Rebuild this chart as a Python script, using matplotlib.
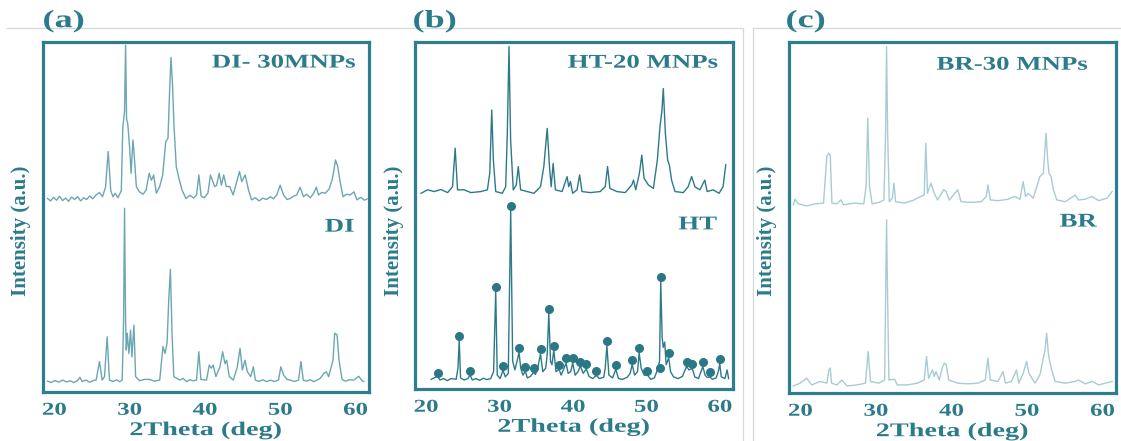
import matplotlib
matplotlib.use("Agg")
import matplotlib.pyplot as plt
from matplotlib.lines import Line2D
from matplotlib import patheffects
from matplotlib.transforms import Affine2D

# ---------------- data (2Theta in deg, intensity in a.u.) ----------------
a_top_x = [19.1, 19.5, 19.9, 20.3, 20.7, 21.1, 21.5, 21.9, 22.3, 22.7, 23.1, 23.5, 23.9, 24.3, 24.7, 25.1, 25.5,
           26.0, 26.4, 26.8, 27.16, 27.5, 27.8, 28.1, 28.45, 28.9, 29.1, 29.33, 29.47, 29.6, 29.75, 30.0, 30.2,
           30.45, 30.6, 30.9, 31.3, 31.8, 32.2, 32.6, 32.9, 33.2, 33.55, 34.0, 34.4, 34.8, 35.1, 35.3, 35.5,
           35.7, 35.9, 36.2, 36.6, 37.0, 37.5, 38.0, 38.5, 38.9, 39.2, 39.5, 39.9, 40.4, 40.75, 41.0, 41.3,
           41.55, 41.9, 42.2, 42.5, 42.85, 43.3, 43.75, 44.3, 44.6, 44.9, 45.1, 45.35, 45.8, 46.2, 46.7, 47.2,
           47.7, 48.2, 48.7, 49.1, 49.55, 50.0, 50.45, 50.9, 51.35, 51.8, 52.2, 52.65, 53.1, 53.5, 54.0, 54.45,
           54.8, 55.1, 55.5, 56.0, 56.5, 56.9, 57.15, 57.35, 57.65, 58.0, 58.35, 58.8, 59.3, 59.8, 60.2, 60.7,
           61.2, 61.55]
a_top_y = [55.3, 54.6, 55.6, 54.8, 55.9, 54.7, 55.4, 54.5, 55.7, 55.0, 55.8, 54.6, 55.5, 55.0, 56.0, 55.2, 56.2,
           57.0, 55.8, 58.5, 68.7, 57.5, 55.8, 56.8, 55.5, 57.5, 75.8, 80.0, 99.1, 78.0, 76.8, 70.0, 62.5,
           72.0, 68.0, 58.7, 57.2, 56.5, 57.7, 62.5, 60.5, 62.0, 56.8, 58.7, 62.0, 71.5, 72.5, 85.0, 95.6,
           88.0, 76.0, 64.4, 60.6, 57.5, 55.3, 56.2, 55.4, 56.3, 62.0, 56.0, 55.5, 56.8, 62.0, 60.5, 58.7,
           59.0, 62.5, 59.1, 62.0, 58.7, 58.7, 56.3, 60.6, 63.0, 60.1, 61.0, 62.0, 57.7, 54.9, 55.5, 54.6,
           55.4, 55.0, 55.8, 55.2, 56.3, 59.1, 56.3, 55.0, 55.3, 56.0, 56.3, 58.5, 55.8, 56.5, 55.5, 56.8,
           58.5, 56.3, 57.0, 56.8, 58.0, 60.6, 63.5, 66.3, 64.4, 59.6, 55.8, 56.5, 56.3, 57.2, 54.9, 55.6,
           54.8, 55.2]

a_bot_x = [19.11, 19.6, 20.1, 20.6, 21.1, 21.6, 22.1, 22.6, 23.1, 23.4, 23.7, 24.2, 24.7, 25.2, 25.56, 26.0,
           26.36, 26.67, 27.02, 27.33, 27.8, 28.3, 28.67, 29.02, 29.2, 29.33, 29.47, 29.56, 29.69, 29.91,
           30.13, 30.31, 30.58, 30.8, 31.33, 32.0, 32.67, 33.3, 34.0, 34.44, 34.71, 34.98, 35.2, 35.42, 35.64,
           35.87, 36.67, 37.1, 37.56, 38.0, 38.44, 38.89, 39.2, 39.47, 40.22, 40.58, 40.85, 41.1, 41.47, 42.0,
           42.36, 42.67, 42.89, 43.25, 43.78, 44.31, 44.67, 44.98, 45.33, 45.64, 46.09, 46.44, 46.71, 47.2,
           47.7, 48.22, 48.7, 49.2, 49.78, 50.09, 50.44, 50.9, 51.33, 51.9, 52.44, 52.76, 53.07, 53.5, 54.0,
           54.44, 54.9, 55.33, 55.78, 56.13, 56.44, 57.02, 57.24, 57.56, 57.82, 58.22, 58.7, 59.2, 59.78,
           60.44, 60.89, 61.11]
a_bot_y = [3.1, 2.7, 3.3, 2.8, 3.4, 2.9, 3.2, 2.7, 3.3, 4.2, 3.0, 3.4, 2.8, 3.3, 3.4, 8.7,
           3.4, 4.4, 15.8, 3.4, 3.0, 3.5, 2.95, 3.4, 20.0, 52.5, 20.0, 12.0, 16.8, 11.0,
           17.7, 10.0, 19.1, 4.4, 3.2, 3.6, 3.6, 3.1, 3.4, 13.0, 11.0, 14.0, 26.3, 35.0, 16.8,
           4.4, 3.4, 3.9, 2.95, 3.5, 3.2, 3.4, 11.5, 3.6, 3.4, 7.7, 6.8, 7.7, 4.4, 7.2,
           11.5, 8.1, 9.1, 4.4, 3.4, 7.2, 12.5, 6.3, 9.1, 5.8, 4.4, 7.2, 3.4, 3.0,
           3.5, 2.95, 3.4, 3.0, 3.4, 7.2, 4.9, 3.6, 3.4, 3.0, 3.4, 8.7, 3.4, 3.1, 3.5,
           2.95, 3.4, 3.9, 5.3, 5.8, 4.4, 9.1, 16.8, 16.3, 9.1, 3.6, 3.1, 3.5, 3.4,
           4.5, 3.2, 2.95]

b_top_x = [19.32, 20.22, 21.13, 22.03, 22.94, 23.61, 23.97, 24.29, 25.2, 26.1, 27.46, 28.36, 28.68, 28.95,
           29.17, 29.49, 30.39, 30.85, 31.07, 31.3, 31.52, 31.88, 32.29, 32.56, 32.88, 33.78, 34.69, 35.59,
           36.04, 36.5, 36.81, 37.04, 37.31, 37.62, 38.53, 39.21, 39.43, 39.66, 39.97, 40.56, 40.92, 41.24,
           42.37, 43.73, 44.4, 44.72, 45.04, 45.99, 47.12, 48.02, 48.25, 48.56, 49.06, 49.38, 49.69, 50.28,
           50.96, 51.5, 51.86, 52.13, 52.31, 52.59, 52.9, 53.13, 53.44, 53.9, 55.03, 55.7, 56.16, 56.61,
           57.29, 57.96, 58.28, 59.09, 59.9, 60.45, 60.81]
b_top_y = [56.4, 57.4, 56.9, 57.5, 56.6, 58.3, 69.4, 57.4, 57.4, 56.6, 56.9, 57.4, 62.2, 80.4,
           66.0, 56.9, 56.4, 58.3, 73.7, 98.7, 71.8, 57.4, 58.8, 64.1, 57.4, 56.9, 56.4, 58.3,
           64.1, 75.1, 64.1, 58.3, 65.0, 57.4, 56.9, 61.2, 58.3, 59.8, 56.4, 57.4, 61.7, 56.9,
           56.6, 56.9, 58.3, 64.1, 57.8, 56.9, 56.6, 58.8, 60.2, 57.4, 62.2, 67.4, 60.7, 58.8,
           57.8, 66.0, 75.6, 80.4, 86.6, 73.7, 66.0, 64.6, 60.2, 56.9, 56.6, 58.3, 61.2, 58.3,
           57.4, 60.2, 56.9, 57.4, 56.4, 58.3, 64.6]

b_bot_x = [20.7, 21.2, 21.58, 21.9, 22.4, 22.9, 23.4, 24.1, 24.35, 24.52, 24.7, 25.2, 25.7, 26.0, 26.3, 26.8,
           27.3, 27.8, 28.3, 28.8, 29.2, 29.49, 29.7, 30.1, 30.48, 30.8, 31.2, 31.53, 31.8, 32.1, 32.4, 32.66,
           32.9, 33.2, 33.52, 33.8, 34.2, 34.64, 34.9, 35.2, 35.59, 35.9, 36.3, 36.5, 36.72, 36.95, 37.15,
           37.4, 37.7, 38.12, 38.4, 38.7, 39.07, 39.35, 39.7, 39.98, 40.3, 40.7, 41.02, 41.4, 41.83, 42.2,
           42.7, 43.19, 43.6, 44.2, 44.4, 44.63, 44.9, 45.4, 45.85, 46.2, 46.8, 47.4, 47.8, 48.07, 48.4,
           48.8, 49.02, 49.3, 49.7, 50.15, 50.6, 51.1, 51.5, 51.8, 51.96, 52.15, 52.3, 52.5, 52.7, 53.04,
           53.3, 53.7, 54.3, 54.9, 55.48, 55.8, 56.25, 56.6, 57.1, 57.69, 58.0, 58.3, 58.64, 59.0, 59.5,
           59.8, 60.0, 60.2, 60.7, 61.0, 61.2]
b_bot_y = [2.8, 3.3, 3.6, 2.6, 3.0, 2.4, 3.0, 2.8, 6.0, 14.0, 3.2, 2.6, 3.0, 4.0, 2.6, 3.0,
           2.5, 3.1, 2.7, 3.0, 5.0, 28.2, 4.0, 3.0, 5.4, 3.5, 4.5, 51.5, 8.0, 5.5, 8.0, 10.6,
           6.0, 4.0, 5.1, 3.2, 3.6, 4.8, 4.2, 6.0, 10.1, 5.0, 6.0, 10.0, 21.8, 8.0, 7.0,
           11.2, 5.0, 5.7, 4.0, 5.5, 7.5, 4.5, 5.0, 7.5, 4.0, 5.0, 6.6, 4.5, 5.8, 3.6,
           3.0, 3.9, 3.0, 3.4, 6.0, 12.5, 4.0, 3.2, 5.7, 3.0, 2.8, 3.4, 4.5, 7.1, 4.0,
           5.0, 10.4, 6.0, 4.0, 4.0, 2.8, 3.2, 5.5, 8.0, 31.0, 15.0, 12.0, 13.5, 7.0, 9.0,
           5.0, 3.5, 3.0, 3.6, 6.5, 5.5, 5.9, 3.5, 3.0, 6.5, 4.0, 3.3, 3.5, 2.8, 3.2,
           5.0, 7.3, 3.5, 3.0, 5.5, 3.0]

# marked reflections on the HT pattern
b_dot_x = [21.58, 24.52, 26.0, 29.49, 30.48, 31.53, 32.66, 33.52, 34.64, 35.59, 36.72, 37.4, 38.12, 39.07,
           39.98, 41.02, 41.83, 43.19, 44.63, 45.85, 48.07, 49.02, 50.15, 51.82, 51.96, 53.04, 55.48, 56.25,
           57.69, 58.64, 60.0]
b_dot_y = [4.7, 15.3, 5.3, 29.5, 6.7, 52.8, 11.9, 6.4, 6.1, 11.4, 23.1, 12.5, 7.0, 8.8,
           8.8, 7.9, 7.1, 5.2, 13.8, 7.0, 8.4, 11.7, 5.3, 6.0, 32.3, 10.3, 7.8, 7.2,
           7.8, 4.8, 8.6]

c_top_x = [19.07, 19.29, 19.73, 20.84, 21.96, 23.07, 23.51, 23.73, 23.96, 24.18, 24.84, 25.38, 25.73, 27.07,
           28.4, 28.71, 28.93, 29.16, 29.51, 30.4, 31.07, 31.29, 31.42, 31.56, 31.78, 32.18, 32.4, 32.62,
           33.73, 34.84, 35.96, 36.4, 36.62, 36.84, 37.29, 37.73, 38.18, 38.98, 39.29, 39.73, 40.84, 41.29,
           42.62, 43.96, 44.62, 44.84, 45.16, 46.18, 47.51, 48.4, 49.07, 49.51, 49.82, 50.18, 50.84, 51.73,
           52.18, 52.53, 52.76, 52.93, 53.2, 53.51, 53.96, 55.07, 56.4, 56.84, 57.73, 58.62, 59.51, 60.62,
           61.29]
c_top_y = [53.6, 55.2, 53.9, 53.3, 53.9, 54.1, 67.4, 68.3, 67.8, 54.1, 53.9, 55.0, 53.6, 54.1,
           53.9, 58.8, 78.3, 58.8, 53.9, 54.3, 55.0, 74.0, 98.7, 74.0, 54.5, 55.5, 59.8, 54.5,
           54.1, 54.8, 56.0, 56.4, 71.2, 56.9, 59.8, 56.9, 55.0, 57.9, 57.4, 55.0, 57.9, 54.5,
           54.3, 54.5, 56.0, 59.3, 55.0, 54.8, 55.2, 56.0, 55.2, 60.2, 56.0, 56.9, 55.5, 61.7,
           62.6, 74.0, 66.4, 62.6, 61.7, 57.9, 55.0, 54.5, 56.4, 55.0, 55.2, 56.0, 54.8, 55.5,
           57.4]

c_bot_x = [19.07, 19.96, 20.84, 21.51, 22.62, 23.51, 23.78, 23.96, 24.13, 24.84, 25.51, 26.18, 27.51, 28.62,
           28.98, 29.29, 30.4, 31.16, 31.29, 31.42, 31.56, 31.73, 32.49, 32.84, 34.18, 35.51, 36.4, 36.71,
           36.98, 37.51, 37.73, 37.96, 38.4, 38.84, 39.07, 39.33, 39.64, 40.84, 42.18, 43.51, 44.49, 44.84,
           45.16, 46.18, 46.84, 47.16, 47.96, 48.62, 48.93, 49.51, 49.96, 50.27, 51.07, 51.73, 52.09, 52.4,
           52.62, 52.84, 53.07, 53.29, 53.73, 55.07, 56.4, 56.84, 57.73, 58.62, 59.51, 60.4, 61.29]
c_bot_y = [2.0, 2.8, 4.2, 2.3, 3.3, 2.8, 6.6, 7.1, 2.8, 2.3, 3.7, 2.0, 2.3, 2.8,
           11.8, 3.3, 2.8, 3.7, 26.5, 49.3, 26.5, 3.7, 3.9, 2.3, 2.3, 2.8, 3.7, 10.4,
           4.2, 6.6, 4.7, 6.1, 3.7, 7.5, 8.5, 8.0, 3.7, 2.8, 2.6, 2.8, 3.7, 9.9,
           3.7, 3.3, 6.1, 2.8, 3.3, 6.6, 2.8, 5.6, 9.0, 5.6, 2.8, 5.2, 9.0, 12.3,
           17.0, 11.3, 8.5, 6.6, 3.3, 2.8, 3.3, 3.7, 2.6, 3.3, 2.3, 2.8, 3.3]

panel_tags = ["(a)", "(b)", "(c)"]
top_labels = ["DI- 30MNPs", "HT-20 MNPs", "BR-30 MNPs"]
bot_labels = ["DI", "HT", "BR"]
xticks = [20, 30, 40, 50, 60]


# horizontal widening of glyphs (the source image is stretched sideways)
class HStretch(patheffects.AbstractPathEffect):
    def __init__(self, sx, anchor="center"):
        super().__init__()
        self.sx = sx
        self.anchor = anchor

    def draw_path(self, renderer, gc, tpath, affine, rgbFace=None):
        ext = affine.transform_path(tpath).get_extents()
        if self.anchor == "left":
            cx = ext.x0
        elif self.anchor == "right":
            cx = ext.x1
        else:
            cx = 0.5 * (ext.x0 + ext.x1)
        aff = affine + Affine2D().translate(-cx, 0).scale(self.sx, 1.0).translate(cx, 0)
        renderer.draw_path(gc, tpath, aff, rgbFace)


SX = 1.38

# ---------------- figure ----------------
W, H = 1121, 441
fig = plt.figure(figsize=(W / 100, H / 100), dpi=100)
fig.patch.set_facecolor("white")

FONT = "Liberation Serif"
TEXT_C = "#2b7b8b"
FRAME_C = "#2d7f8f"
line_colors = ["#6aa7b3", "#2c7a89", "#a7ccd4"]


def px_box(x0, y0, x1, y1):
    return [x0 / W, 1 - y1 / H, (x1 - x0) / W, (y1 - y0) / H]


boxes = [(43, 42, 369, 392), (415, 42, 733, 389), (789, 42, 1116, 393)]
tops = [(a_top_x, a_top_y), (b_top_x, b_top_y), (c_top_x, c_top_y)]
bots = [(a_bot_x, a_bot_y), (b_bot_x, b_bot_y), (c_bot_x, c_bot_y)]
tag_x = [43, 413, 786]
ylab_x = [21, 394, 767]
top_lab_pos = [(0.96, 0.94), (0.955, 0.939), (0.915, 0.934)]
bot_lab_pos = [(0.955, 0.471), (0.95, 0.473), (0.942, 0.487)]

# light gray frame decorations
deco = "#d3d9db"
fig.add_artist(Line2D([7 / W, 743 / W], [1 - 28 / H, 1 - 28 / H], color=deco, lw=0.9))
fig.add_artist(Line2D([753 / W, 1 - 1e-4], [1 - 28 / H, 1 - 28 / H], color=deco, lw=0.9))
fig.add_artist(Line2D([743 / W, 743 / W], [0, 1 - 28 / H], color=deco, lw=0.9))
fig.add_artist(Line2D([753 / W, 753 / W], [0, 1 - 28 / H], color=deco, lw=0.9))

for i in range(3):
    ax = fig.add_axes(px_box(*boxes[i]))
    ax.set_facecolor("white")
    tx, ty = tops[i]
    bx, by = bots[i]
    ax.plot(tx, ty, color=line_colors[i], lw=1.0)
    ax.plot(bx, by, color=line_colors[i], lw=1.0)
    if i == 1:
        ax.plot(b_dot_x, b_dot_y, "o", color="#2a7786", ms=6.5, mew=0)
    ax.set_xlim(18.5, 61.8)
    ax.set_ylim(0, 100)
    ax.set_yticks([])
    ax.set_xticks(xticks)
    ax.set_xticklabels([str(t) for t in xticks], fontfamily=FONT, fontweight="bold",
                       fontsize=13, color=TEXT_C)
    for lab in ax.get_xticklabels():
        lab.set_path_effects([HStretch(SX, "center")])
    ax.tick_params(axis="x", length=0, pad=7)
    for s in ax.spines.values():
        s.set_color(FRAME_C)
        s.set_linewidth(2.3)
    ax.text(0.5, -0.11, "2Theta (deg)", transform=ax.transAxes, ha="center", va="center",
            fontfamily=FONT, fontweight="bold", fontsize=14, color=TEXT_C,
            path_effects=[HStretch(1.45, "center")])
    ax.text(*top_lab_pos[i], top_labels[i], transform=ax.transAxes, ha="right", va="center",
            fontfamily=FONT, fontweight="bold", fontsize=14, color=TEXT_C,
            path_effects=[HStretch(SX, "right")])
    ax.text(*bot_lab_pos[i], bot_labels[i], transform=ax.transAxes, ha="right", va="center",
            fontfamily=FONT, fontweight="bold", fontsize=14, color=TEXT_C,
            path_effects=[HStretch(SX, "right")])
    fig.text(tag_x[i] / W, 1 - 21 / H, panel_tags[i], ha="left", va="center",
             fontfamily=FONT, fontweight="bold", fontsize=18, color=TEXT_C,
             path_effects=[HStretch(1.45, "left")])
    fig.text(ylab_x[i] / W, 1 - 231 / H, "Intensity (a.u.)", rotation=90, ha="center", va="center",
             fontfamily=FONT, fontweight="bold", fontsize=15, color=TEXT_C)

fig.savefig("out.png", dpi=100)
